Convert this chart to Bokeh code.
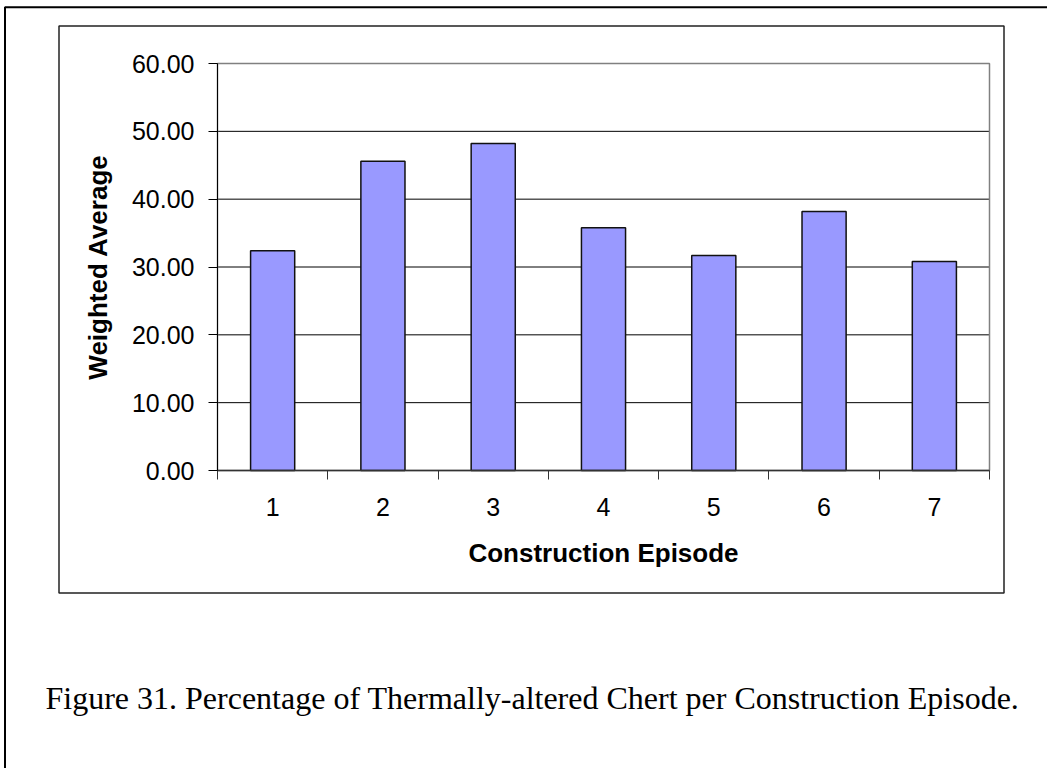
from bokeh.plotting import figure
from bokeh.models import FixedTicker, PrintfTickFormatter, Label, Range1d
from bokeh.embed import file_html
from bokeh.resources import INLINE

# ---- data ----
episodes = [1, 2, 3, 4, 5, 6, 7]
weighted_average = [32.4, 45.6, 48.2, 35.8, 31.7, 38.2, 30.8]
y_ticks = [0, 10, 20, 30, 40, 50, 60]
x_title = "Construction Episode"
y_title = "Weighted Average"
caption = "Figure 31. Percentage of Thermally-altered Chert per Construction Episode."

# ---- layout (pixels on the page) ----
W, H = 1047, 768
X_LEFT_PX, X_RIGHT_PX = 217.0, 989.0     # plot area left / right
Y_BOTTOM_PX, Y_TOP_PX = 470.0, 63.0      # plot area bottom / top

x_lo = episodes[0] - 0.5
x_hi = episodes[-1] + 0.5
y_lo, y_hi = y_ticks[0], y_ticks[-1]
sx = (X_RIGHT_PX - X_LEFT_PX) / (x_hi - x_lo)
sy = (Y_BOTTOM_PX - Y_TOP_PX) / (y_hi - y_lo)


def px2x(px):
    return x_lo + (px - X_LEFT_PX) / sx


def py2y(py):
    return y_lo + (Y_BOTTOM_PX - py) / sy


boundaries = [e - 0.5 for e in episodes] + [episodes[-1] + 0.5]
grid_values = y_ticks[1:-1]

p = figure(width=W, height=H, output_backend="svg", toolbar_location=None,
           x_range=Range1d(px2x(0), px2x(W)), y_range=Range1d(py2y(H), py2y(0)),
           min_border=0, min_border_left=0, min_border_right=0,
           min_border_top=0, min_border_bottom=0)
p.background_fill_color = "white"
p.border_fill_color = "white"
p.outline_line_color = None
p.xgrid.visible = False
p.ygrid.visible = False

# page frame (left and top edges visible)
p.quad(left=[px2x(4.5)], right=[px2x(3000)], top=[py2y(6.8)], bottom=[py2y(3000)],
       fill_color=None, line_color="black", line_width=2)
# chart box
p.quad(left=[px2x(58.5)], right=[px2x(1003.5)], top=[py2y(25.5)], bottom=[py2y(592.5)],
       fill_color=None, line_color="#222222", line_width=1.5)

# horizontal gridlines inside the plot area
p.segment(x0=[x_lo] * len(grid_values), x1=[x_hi] * len(grid_values),
          y0=grid_values, y1=grid_values, line_color="black", line_width=1)

# plot area border
p.quad(left=[x_lo], right=[x_hi], top=[y_hi], bottom=[y_lo],
       fill_color=None, line_color="#808080", line_width=1.5)

# bars
p.vbar(x=episodes, top=weighted_average, width=0.4, bottom=0,
       fill_color="#9999FF", line_color="#111111", line_width=1.5)

# y axis
ya = p.yaxis[0]
ya.fixed_location = x_lo
ya.bounds = (y_lo, y_hi)
ya.ticker = FixedTicker(ticks=y_ticks)
ya.formatter = PrintfTickFormatter(format="%.2f")
ya.major_tick_out = 9
ya.major_tick_in = 0
ya.minor_tick_out = 0
ya.minor_tick_in = 0
ya.major_tick_line_color = "black"
ya.axis_line_color = "black"
ya.axis_line_width = 1
ya.major_label_text_font = "Liberation Sans"
ya.major_label_text_font_size = "25px"
ya.major_label_text_color = "black"
ya.major_label_standoff = 14
ya.axis_label = y_title
ya.axis_label_text_font = "Liberation Sans"
ya.axis_label_text_font_style = "bold"
ya.axis_label_text_font_size = "26px"
ya.axis_label_text_color = "black"
ya.axis_label_standoff = 16

# x axis
xa = p.xaxis[0]
xa.fixed_location = y_lo
xa.bounds = (x_lo, x_hi)
xa.ticker = FixedTicker(ticks=episodes, minor_ticks=boundaries)
xa.major_tick_out = 0
xa.major_tick_in = 0
xa.minor_tick_out = 9
xa.minor_tick_in = 0
xa.minor_tick_line_color = "#333333"
xa.minor_tick_line_width = 1
xa.axis_line_color = "#333333"
xa.axis_line_width = 1.5
xa.major_label_text_font = "Liberation Sans"
xa.major_label_text_font_size = "25px"
xa.major_label_text_color = "black"
xa.major_label_standoff = 18
xa.axis_label = x_title
xa.axis_label_text_font = "Liberation Sans"
xa.axis_label_text_font_style = "bold"
xa.axis_label_text_font_size = "26px"
xa.axis_label_text_color = "black"
xa.axis_label_standoff = 19

# caption
cap = Label(x=px2x(45), y=py2y(697), text=caption,
            text_font="Liberation Serif", text_font_size="32px", text_color="black",
            text_baseline="alphabetic", text_align="left")
p.add_layout(cap)

open("out.html", "w").write(file_html(p, INLINE))
